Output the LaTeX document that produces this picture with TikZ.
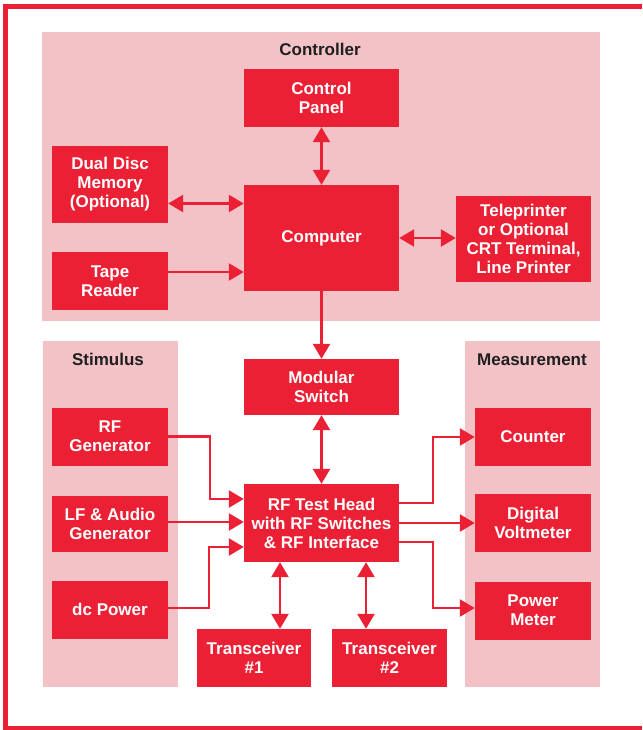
\documentclass[tikz,border=0pt]{standalone}
\usepackage{fontspec}
\setmainfont{Liberation Sans}
\usetikzlibrary{calc,positioning,arrows.meta}
\definecolor{boxred}{RGB}{236,32,52}
\definecolor{panelpink}{RGB}{243,194,199}
\tikzset{
  unit/.style={
    fill=boxred,
    text=white,
    font=\bfseries\fontsize{17}{19}\selectfont,
    align=center,
    inner sep=0pt,
    minimum width=116pt,
    minimum height=58pt
  },
  wide unit/.style={unit,minimum width=155pt},
  panel label/.style={font=\bfseries\fontsize{17}{19}\selectfont,text=black!88},
  link/.style={draw=boxred,line width=2.5pt,-{Triangle[length=15pt,width=17pt]}},
  both link/.style={link,{Triangle[length=15pt,width=17pt]}-{Triangle[length=15pt,width=17pt]}}
}

\begin{document}
\begin{tikzpicture}[x=1pt,y=-1pt]
  \useasboundingbox (0,0) rectangle (642,730);
  \draw[boxred,line width=5pt] (642,7) -- (5.5,7) -- (5.5,728.5) -- (642,728.5);

  \fill[panelpink] (42,32) rectangle (600,321);
  \fill[panelpink] (43,341) rectangle (178,687);
  \fill[panelpink] (465,341) rectangle (600,687);
  \node (controller_label) [panel label] at(320,49) {Controller};
  \node (stimulus_label) [panel label] at(108,359) {Stimulus};
  \node (measurement_label) [panel label] at(532,360) {Measurement};

  \node (ctrl_panel) [wide unit] at(321.5,98) {Control\\Panel};
  \node (computer) [wide unit,minimum height=106pt] at(321.5,238) {Computer};
  \node (disc) [unit,minimum height=77pt] at(110,184.5) {Dual Disc\\Memory\\(Optional)};
  \node (tape) [unit] at(110,281) {Tape\\Reader};
  \node (tele) [unit,minimum width=135pt,minimum height=86pt] at(523.5,239) {Teleprinter\\or Optional\\CRT Terminal,\\Line Printer};

  \node (mod_switch) [wide unit,minimum height=56pt] at(321.5,387) {Modular\\Switch};
  \node (test_head) [wide unit,minimum height=78pt] at(321.5,523) {RF Test Head\\with RF Switches\\\& RF Interface};

  \node (rf_gen) [unit] at(110,436.5) {RF\\Generator};
  \node (lf_gen) [unit,minimum height=56pt] at(110,524) {LF \& Audio\\Generator};
  \node (dc_power) [unit] at(110,609.5) {dc Power};

  \node (counter) [unit] at(533,437) {Counter};
  \node (dvm) [unit] at(533,523) {Digital\\Voltmeter};
  \node (power_meter) [unit] at(533,610.5) {Power\\Meter};

  \node (trx1) [unit,minimum width=114pt] at(254,658) {Transceiver\\\#1};
  \node (trx2) [unit,minimum width=115pt] at(389.5,658) {Transceiver\\\#2};

  \draw[both link] (ctrl_panel) -- (computer);
  \draw[both link] ([yshift=-19pt]disc.east) -- ([yshift=-19pt]disc.east -| computer.west);
  \draw[link] ([yshift=9pt]tape.east) -- ([yshift=9pt]tape.east -| computer.west);
  \draw[both link] (computer) -- (computer -| tele.west);
  \draw[link] (computer) -- (mod_switch);
  \draw[both link] (mod_switch) -- (test_head);

  \draw[link] (rf_gen.east) -- ++(42,0) |- ([yshift=24pt]test_head.west);
  \draw[link] ([yshift=2pt]lf_gen.east) -- ([yshift=2pt]lf_gen.east -| test_head.west);
  \draw[link] ([yshift=1.5pt]dc_power.east) -- ++(41,0) |- ([yshift=-24pt]test_head.west);

  \draw[link] ([yshift=20pt]test_head.east) -- ++(34,0) |- (counter.west);
  \draw[link] (test_head) -- (dvm);
  \draw[link] ([yshift=-19pt]test_head.east) -- ++(34,0) |- ([yshift=2.5pt]power_meter.west);

  \draw[both link] ([xshift=26pt]trx1.north) -- ([xshift=26pt]trx1.north |- test_head.south);
  \draw[both link] ([xshift=-23.5pt]trx2.north) -- ([xshift=-23.5pt]trx2.north |- test_head.south);
\end{tikzpicture}
\end{document}
